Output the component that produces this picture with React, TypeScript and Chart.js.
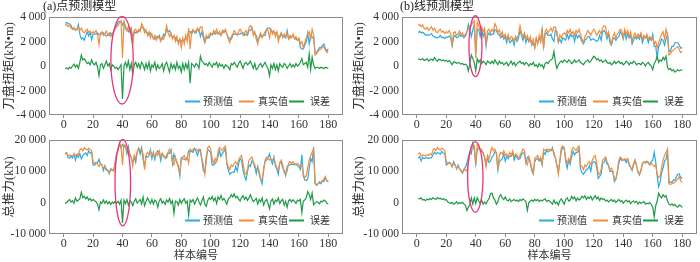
import React, { useEffect, useRef } from "react";
import { Chart, registerables } from "chart.js";

Chart.register(...registerables);

// ---------- data ----------
const X_TICKS = [0, 20, 40, 60, 80, 100, 120, 140, 160, 180];
const SERIES_NAMES = ["预测值", "真实值", "误差"];
const PANEL_TITLES = ["(a)点预测模型", "(b)线预测模型"];
const TORQUE_TITLE = "刀盘扭矩(kN•m)";
const THRUST_TITLE = "总推力(kN)";
const X_TITLE = "样本编号";

const TORQUE_TRUE = [
  3300, 3400, 3200, 3350, 3100, 3000, 3150, 2900, 3050, 3200,
  2900, 3100, 2800, 2700, 2900, 3000, 2750, 2850, 2650, 2800,
  2700, 2900, 2600, 1750, 2700, 2800, 2500, 2650, 2850, 2550,
  2700, 2400, 2600, 2800, 3000, 3200, 3300, 3550, 3700, 650,
  3600, 3300, 2900, 3200, 2800, 3100, 1700, 2900, 3000, 2700,
  3000, 2800, 3450, 3200, 2700, 2950, 2500, 2800, 2300, 2600,
  2200, 2500, 2100, 2400, 2300, 2000, 2400, 2200, 2600, 3300,
  2700, 2400, 2700, 2200, 2500, 2000, 2400, 1800, 2200, 1500,
  2300, 1800, 2500, 2000, 3100, 1400, 2800, 3000, 2700, 2900,
  3100, 2800, 3200, 3200, 2600, 2000, 2500, 2300, 2600, 2700,
  2500, 2900, 2700, 3000, 2600, 2800, 2500, 2900, 2700, 3000,
  2600, 2200, 1900, 2400, 2600, 2900, 2700, 2500, 2800, 3000,
  2800, 2500, 2700, 2900, 2600, 3100, 3300, 3200, 2500, 2800,
  2200, 1800, 2400, 2700, 2300, 2600, 2800, 3000, 2900, 2300,
  3000, 2600, 2900, 2400, 2800, 2000, 2500, 2700, 2300, 2600,
  2400, 2700, 2200, 2500, 2300, 2600, 2200, 2400, 2100, 2300,
  1800, 2000, 1500, 1900, 2300, 2600, 2800, 2200, 3000, 2500,
  900, 1000, 1200, 1300, 1400, 1500, 1600, 1300, 1100, 1200,
];

const TORQUE_PRED_A = [
  3500, 3550, 3450, 3450, 3300, 3000, 3000, 3000, 2950, 3400,
  2600, 2200, 2300, 2100, 2500, 2800, 2450, 2750, 2150, 2600,
  2600, 2600, 2700, 2550, 2600, 2600, 2700, 2550, 2450, 2550,
  2500, 2700, 2500, 2800, 3200, 3300, 3600, 3650, 3600, 3350,
  3600, 3000, 3000, 2800, 3100, 2900, 2400, 2800, 2700, 2800,
  2800, 3000, 3150, 3100, 3000, 2750, 2700, 2500, 2700, 2500,
  2300, 2200, 2400, 2300, 2500, 2100, 2200, 2600, 2500, 3000,
  2800, 2900, 2500, 2400, 2400, 2300, 2100, 2000, 2200, 2000,
  2100, 2100, 2300, 2200, 2800, 2800, 2600, 2900, 2800, 2700,
  3000, 3000, 2400, 2800, 2300, 1900, 2300, 2300, 2300, 2600,
  2600, 2700, 2600, 2700, 2700, 2600, 2500, 2800, 2900, 2900,
  2600, 2300, 2200, 2200, 2500, 2600, 2600, 2600, 2600, 2600,
  2700, 2700, 2500, 2600, 2500, 2900, 2900, 3100, 2700, 2600,
  2500, 2000, 2300, 2500, 2400, 2500, 2500, 3000, 3100, 3100,
  2900, 2800, 2700, 2700, 2700, 2400, 2300, 2700, 2400, 2400,
  2300, 2900, 2200, 2300, 2400, 2500, 2300, 2200, 2100, 2200,
  1500, 1400, 1400, 1700, 2000, 2700, 1800, 2500, 2300, 2400,
  1100, 1100, 1300, 1500, 1500, 1650, 1800, 1400, 1250, 1400,
];

const TORQUE_ERR_A = [
  -200, -150, -250, -100, -200, 0, 150, -100, 100, -200,
  300, 900, 500, 600, 400, 200, 300, 100, 500, 200,
  100, 300, -100, -800, 100, 200, -200, 100, 400, 0,
  200, -300, 100, 0, -200, -100, -300, -100, 100, -2700,
  0, 300, -100, 400, -300, 200, -700, 100, 300, -100,
  200, -200, 300, 100, -300, 200, -200, 300, -400, 100,
  -100, 300, -300, 100, -200, -100, 200, -400, 100, 300,
  -100, -500, 200, -200, 100, -300, 300, -200, 0, -500,
  200, -300, 200, -200, 300, -1400, 200, 100, -100, 200,
  100, -200, 800, 400, 300, 100, 200, 0, 300, 100,
  -100, 200, 100, 300, -100, 200, 0, 100, -200, 100,
  0, -100, -300, 200, 100, 300, 100, -100, 200, 400,
  100, -200, 200, 300, 100, 200, 400, 100, -200, 200,
  -300, -200, 100, 200, -100, 100, 300, 0, -200, -800,
  100, -200, 200, -300, 100, -400, 200, 0, -100, 200,
  100, -200, 0, 200, -100, 100, -100, 200, 0, 100,
  300, 600, 100, 200, 300, -100, 1000, -300, 700, 100,
  -200, -100, -100, -200, -100, -150, -200, -100, -150, -200,
];

const TORQUE_PRED_B = [
  2700, 2850, 2700, 2750, 2650, 2500, 2550, 2500, 2550, 2650,
  2450, 2400, 2300, 2300, 2350, 2500, 2300, 2350, 2250, 2350,
  2350, 2450, 2300, 1650, 2350, 2500, 2300, 2350, 2600, 2400,
  2500, 2300, 2450, 2750, 3400, 3000, 2400, 2950, 3400, 1050,
  3000, 3000, 2400, 3000, 2400, 2800, 1600, 2500, 2700, 2500,
  2600, 2600, 2950, 2900, 2600, 2550, 2300, 2500, 2200, 2400,
  1900, 2500, 1900, 2000, 2200, 1700, 2400, 2000, 2300, 2900,
  2500, 2100, 2600, 1900, 2300, 2000, 2200, 1700, 1900, 1500,
  2200, 1900, 2300, 2000, 3000, 1600, 2600, 2700, 2500, 2500,
  2600, 2200, 2000, 2900, 2800, 1900, 2200, 1900, 2300, 2200,
  2100, 2600, 2200, 2600, 2400, 2500, 2000, 2600, 2300, 2500,
  2300, 2000, 1800, 2100, 2200, 2400, 2400, 2100, 2200, 2200,
  2100, 2000, 2100, 2500, 2100, 2800, 2900, 2700, 2200, 2600,
  1900, 1700, 2200, 2300, 2100, 2300, 2400, 2800, 2600, 2200,
  2800, 2200, 2600, 2300, 2500, 1800, 2100, 2400, 2200, 2400,
  2200, 2600, 1900, 2300, 2300, 2400, 1900, 2300, 2100, 2600,
  1600, 1600, 700, 1600, 1800, 2200, 2100, 1700, 2200, 2600,
  1200, 1200, 1600, 1600, 1900, 1900, 1900, 1700, 1450, 1500,
];

const TORQUE_ERR_B = [
  600, 550, 500, 600, 450, 500, 600, 400, 500, 550,
  450, 700, 500, 400, 550, 500, 450, 500, 400, 450,
  350, 450, 300, 100, 350, 300, 200, 300, 250, 150,
  200, 100, 150, 50, -400, 200, 900, 600, 300, -400,
  600, 300, 500, 200, 400, 300, 100, 400, 300, 200,
  400, 200, 500, 300, 100, 400, 200, 300, 100, 200,
  300, 0, 200, 400, 100, 300, 0, 200, 300, 400,
  200, 300, 100, 300, 200, 0, 200, 100, 300, 0,
  100, -100, 200, 0, 100, -200, 200, 300, 200, 400,
  500, 600, 1200, 300, -200, 100, 300, 400, 300, 500,
  400, 300, 500, 400, 200, 300, 500, 300, 400, 500,
  300, 200, 100, 300, 400, 500, 300, 400, 600, 800,
  700, 500, 600, 400, 500, 300, 400, 500, 300, 200,
  300, 100, 200, 400, 200, 300, 400, 200, 300, 100,
  200, 400, 300, 100, 300, 200, 400, 300, 100, 200,
  200, 100, 300, 200, 0, 200, 300, 100, 0, -300,
  200, 400, 800, 300, 500, 400, 700, 500, 800, -100,
  -300, -200, -400, -300, -500, -400, -300, -400, -350, -300,
];

const THRUST_TRUE = [
  15500, 15800, 14800, 15200, 15000, 14800, 15300, 15000, 15500, 15200,
  16800, 17200, 16500, 17500, 17000, 16800, 17300, 17000, 16500, 13000,
  12500, 12800, 12200, 11500, 12500, 11800, 11000, 11500, 10800, 10000,
  9500, 10200, 10500, 10000, 13000, 15500, 17000, 18500, 18200, 12000,
  18500, 17800, 16500, 17000, 15500, 14500, 11500, 15000, 14000, 16000,
  17500, 16500, 17000, 15500, 10500, 15000, 16000, 15500, 16500, 15000,
  15500, 14500, 16000, 15000, 16500, 14500, 15500, 15000, 14000, 15000,
  16000, 17000, 16500, 13000, 12000, 14500, 13000, 11000, 9500, 14000,
  14500, 15000, 13500, 14500, 12500, 17000, 16500, 17000, 16800, 17000,
  16500, 17000, 16000, 14000, 12000, 9000, 13500, 17500, 18000, 17000,
  14000, 12500, 14000, 13000, 16500, 17500, 17000, 16500, 17500, 18000,
  12000, 11500, 10500, 12000, 11500, 12500, 13000, 12000, 13500, 14500,
  15000, 12500, 9500, 9000, 10500, 13500, 14000, 14500, 13000, 12000,
  10500, 11000, 10000, 7500, 7500, 10000, 13500, 14500, 14000, 13500,
  14000, 13500, 14000, 12500, 11000, 10500, 12500, 13500, 12000, 9500,
  9000, 10000, 12500, 13000, 12500, 13000, 12500, 12000, 12500, 12000,
  11500, 12000, 9000, 8000, 8500, 11000, 13500, 15000, 16000, 17000,
  6000, 5800, 6000, 6200, 6500, 7000, 7500, 8300, 6800, 6500,
];

const THRUST_PRED_A = [
  15800, 15800, 14300, 14200, 14800, 14200, 15500, 13500, 15100, 14400,
  15600, 13900, 15000, 15500, 15800, 15000, 16500, 15700, 16000, 12000,
  11900, 12500, 12700, 13800, 12300, 12100, 10200, 11700, 10300, 10400,
  9200, 10800, 10300, 10300, 12500, 15700, 16600, 19000, 17400, 18500,
  17700, 18100, 15500, 17800, 14900, 14300, 12500, 14600, 12800, 16200,
  17000, 15500, 17500, 13700, 11500, 14700, 14500, 14900, 16800, 14000,
  16000, 13700, 15700, 16500, 15900, 13300, 15700, 14600, 14600, 14200,
  15800, 15700, 16800, 12400, 15500, 14000, 12700, 11800, 8500, 14300,
  13900, 13800, 13700, 14000, 16500, 16200, 16300, 16000, 17300, 16400,
  15000, 16700, 16800, 13500, 10200, 9500, 14700, 16800, 16500, 16000,
  12000, 11900, 12500, 13300, 14700, 16500, 14700, 15700, 16200, 17500,
  12500, 10300, 9000, 9500, 9700, 9700, 11500, 10000, 12300, 14000,
  13400, 10300, 8500, 7200, 9800, 12000, 11500, 13300, 12700, 11200,
  9200, 11500, 9000, 7300, 6000, 10800, 13000, 13500, 14300, 15500,
  13500, 12300, 14500, 11700, 10700, 9000, 12800, 12900, 11000, 10300,
  8600, 11500, 11900, 12000, 12300, 12100, 12100, 12300, 11700, 11500,
  10500, 15200, 8500, 7200, 7000, 7500, 11000, 14000, 13000, 17700,
  6200, 5500, 5900, 6600, 6000, 6800, 6700, 7800, 7000, 6900,
];

const THRUST_ERR_A = [
  -300, 0, 500, 1000, 200, 600, -200, 1500, 400, 800,
  1200, 3300, 1500, 2000, 1200, 1800, 800, 1300, 500, 1000,
  600, 300, -500, -2300, 200, -300, 800, -200, 500, -400,
  300, -600, 200, -300, 500, -200, 400, -500, 800, -6500,
  800, -300, 1000, -800, 600, 200, -1000, 400, 1200, -200,
  500, 1000, -500, 1800, -1000, 300, 1500, 600, -300, 1000,
  -500, 800, 300, -1500, 600, 1200, -200, 400, -600, 800,
  200, 1300, -300, 600, -3500, 500, 300, -800, 1000, -300,
  600, 1200, -200, 500, -4000, 800, 200, 1000, -500, 600,
  1500, 300, -800, 500, 1800, -500, -1200, 700, 1500, 1000,
  2000, 600, 1500, -300, 1800, 1000, 2300, 800, 1300, 500,
  -500, 1200, 1500, 2500, 1800, 2800, 1500, 2000, 1200, 500,
  1600, 2200, 1000, 1800, 700, 1500, 2500, 1200, 300, 800,
  1300, -500, 1000, 200, 1500, -800, 500, 1000, -300, -2000,
  500, 1200, -500, 800, 300, 1500, -300, 600, 1000, -800,
  400, -1500, 600, 1000, 200, 900, 400, -300, 800, 500,
  1000, -3200, 500, 800, 1500, 3500, 2500, 1000, 3000, -700,
  -200, 300, 100, -400, 500, 200, 800, 500, -200, -400,
];

const THRUST_PRED_B = [
  14200, 14600, 13300, 14400, 14000, 14200, 14200, 14100, 14200, 14200,
  15300, 16000, 15500, 15900, 15800, 15400, 16300, 15700, 15700, 12000,
  12300, 12800, 12500, 11400, 13000, 12000, 10700, 11900, 10800, 10300,
  9400, 10700, 11300, 12500, 14500, 16000, 15500, 19000, 16700, 12300,
  17000, 17300, 16800, 16200, 16000, 14300, 11900, 14400, 12800, 13200,
  14500, 15000, 16200, 16000, 10300, 13000, 13500, 14000, 15500, 13200,
  14700, 14000, 14800, 14700, 15800, 13500, 15000, 14200, 13700, 14000,
  15400, 15800, 15700, 12700, 14500, 14500, 12500, 10200, 9100, 13000,
  13900, 14000, 13200, 13700, 12000, 16100, 15300, 16600, 16100, 16500,
  16500, 17500, 15200, 14300, 11800, 9800, 12900, 16300, 17700, 17500,
  13000, 11000, 13500, 12200, 14500, 16300, 15200, 15900, 16000, 17200,
  10800, 9500, 9000, 9800, 10500, 10700, 11700, 10000, 12700, 13000,
  12800, 11300, 7700, 8300, 9000, 12500, 12800, 14000, 12200, 11800,
  9900, 10000, 9700, 6700, 7500, 9500, 12500, 14200, 13400, 13700,
  13600, 12700, 13800, 11900, 11300, 10200, 12000, 13500, 11600, 10000,
  8800, 10300, 12500, 12700, 13000, 13200, 12900, 12000, 13100, 13500,
  16000, 13000, 8500, 5000, 6500, 9500, 11000, 13200, 13800, 16500,
  6500, 6600, 6400, 7200, 7100, 8200, 9000, 9100, 7800, 8000,
];

const THRUST_ERR_B = [
  1300, 1200, 1500, 800, 1000, 600, 1100, 900, 1300, 1000,
  1500, 1200, 1000, 1600, 1200, 1400, 1000, 1300, 800, 1000,
  200, 0, -300, 100, -500, -200, 300, -400, 0, -300,
  100, -500, -800, -2500, -1500, -500, 1500, -500, 1500, -300,
  1500, 500, -300, 800, -500, 200, -400, 600, 1200, 2800,
  3000, 1500, 800, -500, 200, 2000, 2500, 1500, 1000, 1800,
  800, 500, 1200, 300, 700, 1000, 500, 800, 300, 1000,
  600, 1200, 800, 300, -2500, 0, 500, 800, 400, 1000,
  600, 1000, 300, 800, 500, 900, 1200, 400, 700, 500,
  0, -500, 800, -300, 200, -800, 600, 1200, 300, -500,
  1000, 1500, 500, 800, 2000, 1200, 1800, 600, 1500, 800,
  1200, 2000, 1500, 2200, 1000, 1800, 1300, 2000, 800, 1500,
  2200, 1200, 1800, 700, 1500, 1000, 1200, 500, 800, 200,
  600, 1000, 300, 800, 0, 500, 1000, 300, 600, -200,
  400, 800, 200, 600, -300, 300, 500, 0, 400, -500,
  200, -300, 0, 300, -500, -200, -400, 0, -600, -1500,
  -4500, -1000, 500, 3000, 2000, 1500, 2500, 1800, 2200, 500,
  -500, -800, -400, -1000, -600, -1200, -1500, -800, -1000, -1500,
];

// ---------- styling ----------
const FONT = "'Liberation Serif', 'Noto Sans CJK SC', serif";
const COLORS = ["#2aabe3", "#f48d3c", "#1f9a47"];
const TEXT = "#333333";
const FRAME = "#8a8a8a";
const ELLIPSE = "#e8357f";

function fmt(v: number): string {
  const s = String(Math.abs(v)).replace(/\B(?=(\d{3})+(?!\d))/g, " ");
  return (v < 0 ? "-" : "") + s;
}

const toPoints = (arr: number[]) => arr.map((y, i) => ({ x: i + 1, y }));

const decorPlugin = {
  id: "decor",
  afterDatasetsDraw(chart: any, _args: any, opts: any) {
    const { ctx, chartArea: a, scales } = chart;
    ctx.save();
    // frame
    ctx.strokeStyle = FRAME;
    ctx.lineWidth = 1;
    const l = Math.round(a.left) + 0.5;
    const t = Math.round(a.top) + 0.5;
    const r = Math.round(a.right) - 0.5;
    const b = Math.round(a.bottom) - 0.5;
    ctx.strokeRect(l, t, r - l, b - t);

    // highlight ellipse
    const e = opts.ellipse;
    const xs = scales.x;
    const ys = scales.y;
    const cx = xs.getPixelForValue(e.cx);
    const rx = Math.abs(xs.getPixelForValue(e.cx + e.rx) - cx);
    const cy = ys.getPixelForValue(e.cy);
    const ry = Math.abs(ys.getPixelForValue(e.cy + e.ry) - cy);
    ctx.strokeStyle = ELLIPSE;
    ctx.lineWidth = 1.3;
    ctx.beginPath();
    ctx.ellipse(cx, cy, rx, ry, 0, 0, Math.PI * 2);
    ctx.stroke();

    // legend
    const ly = a.bottom - 13.5;
    const slots = [
      { line: 158, text: 140 },
      { line: 104, text: 85 },
      { line: 54, text: 33 },
    ];
    ctx.font = `10px ${FONT}`;
    ctx.textBaseline = "middle";
    ctx.textAlign = "left";
    SERIES_NAMES.forEach((name, i) => {
      const s = slots[i];
      ctx.strokeStyle = COLORS[i];
      ctx.lineWidth = 2;
      ctx.beginPath();
      ctx.moveTo(a.right - s.line, ly);
      ctx.lineTo(a.right - s.line + 15, ly);
      ctx.stroke();
      ctx.fillStyle = TEXT;
      ctx.fillText(name, a.right - s.text, ly + 0.5);
    });

    // panel title
    if (opts.title) {
      ctx.font = `12px ${FONT}`;
      ctx.fillStyle = "#222";
      ctx.textBaseline = "middle";
      ctx.fillText(opts.title, opts.titleX, 6.5);
    }
    ctx.restore();
  },
};

type PanelCfg = {
  left: number;
  top: number;
  title: string | null;
  titleX: number;
  yTitle: string;
  pred: number[];
  truth: number[];
  err: number[];
  yMin: number;
  yMax: number;
  yStep: number;
  xTitle: boolean;
  padTop: number;
  padRight: number;
  yWidth: number;
  xHeight: number;
  ellipse: { cx: number; cy: number; rx: number; ry: number };
};

const PANELS: PanelCfg[] = [
  {
    left: 0, top: 0, title: PANEL_TITLES[0], titleX: 43, yTitle: TORQUE_TITLE,
    pred: TORQUE_PRED_A, truth: TORQUE_TRUE, err: TORQUE_ERR_A,
    yMin: -4000, yMax: 4000, yStep: 2000, xTitle: false,
    padTop: 17, padRight: 7, yWidth: 49, xHeight: 16,
    ellipse: { cx: 39.7, cy: 475, rx: 7.6, ry: 3575 },
  },
  {
    left: 350, top: 0, title: PANEL_TITLES[1], titleX: 50, yTitle: TORQUE_TITLE,
    pred: TORQUE_PRED_B, truth: TORQUE_TRUE, err: TORQUE_ERR_B,
    yMin: -4000, yMax: 4000, yStep: 2000, xTitle: false,
    padTop: 17, padRight: 3, yWidth: 52, xHeight: 16,
    ellipse: { cx: 39.8, cy: 1615, rx: 4.4, ry: 2485 },
  },
  {
    left: 0, top: 131, title: null, titleX: 0, yTitle: THRUST_TITLE,
    pred: THRUST_PRED_A, truth: THRUST_TRUE, err: THRUST_ERR_A,
    yMin: -10000, yMax: 20000, yStep: 10000, xTitle: true,
    padTop: 6, padRight: 7, yWidth: 49, xHeight: 28,
    ellipse: { cx: 40.2, cy: 6350, rx: 5.3, ry: 13750 },
  },
  {
    left: 350, top: 131, title: null, titleX: 0, yTitle: THRUST_TITLE,
    pred: THRUST_PRED_B, truth: THRUST_TRUE, err: THRUST_ERR_B,
    yMin: -10000, yMax: 20000, yStep: 10000, xTitle: true,
    padTop: 6, padRight: 3, yWidth: 52, xHeight: 28,
    ellipse: { cx: 39.7, cy: 8150, rx: 5.2, ry: 11250 },
  },
];

function Panel({ cfg }: { cfg: PanelCfg }) {
  const ref = useRef<HTMLCanvasElement>(null);
  useEffect(() => {
    const canvas = ref.current;
    if (!canvas) return;
    const series = [cfg.pred, cfg.truth, cfg.err];
    const chart = new Chart(canvas, {
      type: "line",
      data: {
        datasets: series.map((arr, i) => ({
          label: SERIES_NAMES[i],
          data: toPoints(arr),
          borderColor: COLORS[i],
          backgroundColor: COLORS[i],
          borderWidth: 1.2,
          pointRadius: 0,
          tension: 0,
          fill: false,
          order: 2 - i,
        })),
      },
      options: {
        responsive: false,
        animation: false,
        events: [],
        layout: { padding: { top: cfg.padTop, right: cfg.padRight, left: 0, bottom: 0 } },
        plugins: {
          legend: { display: false },
          title: { display: false },
          tooltip: { enabled: false },
          decor: { ellipse: cfg.ellipse, title: cfg.title, titleX: cfg.titleX },
        } as any,
        scales: {
          x: {
            type: "linear",
            min: -10,
            max: 190,
            afterBuildTicks: (s: any) => {
              s.ticks = X_TICKS.map((v) => ({ value: v }));
            },
            afterFit: (s: any) => {
              s.height = cfg.xHeight;
            },
            grid: { display: true, drawOnChartArea: false, drawTicks: true, tickLength: 3, color: FRAME },
            border: { display: false },
            ticks: {
              font: { family: FONT, size: 12, lineHeight: 1 },
              color: TEXT,
              padding: 1,
              maxRotation: 0,
              autoSkip: false,
            },
            title: {
              display: cfg.xTitle,
              text: X_TITLE,
              font: { family: FONT, size: 11, lineHeight: 1 },
              color: TEXT,
              padding: { top: 0, bottom: 0 },
            },
          },
          y: {
            type: "linear",
            min: cfg.yMin,
            max: cfg.yMax,
            afterFit: (s: any) => {
              s.width = cfg.yWidth;
            },
            grid: { display: false, drawTicks: false },
            border: { display: false },
            ticks: {
              stepSize: cfg.yStep,
              callback: (v: any) => fmt(Number(v)),
              font: { family: FONT, size: 11.5, lineHeight: 1 },
              color: TEXT,
              padding: 3,
            },
            title: {
              display: true,
              text: cfg.yTitle,
              font: { family: FONT, size: 12.5, lineHeight: 1.2 },
              color: TEXT,
              padding: { top: 2, bottom: 0 },
            },
          },
        },
      },
      plugins: [decorPlugin],
    } as any);
    return () => chart.destroy();
  }, [cfg]);

  return (
    <canvas
      ref={ref}
      width={350}
      height={131}
      style={{ position: "absolute", left: cfg.left, top: cfg.top, width: 350, height: 131 }}
    />
  );
}

export default function App() {
  return (
    <div
      style={{
        position: "fixed",
        left: 0,
        top: 0,
        width: 700,
        height: 262,
        background: "#ffffff",
        overflow: "hidden",
      }}
    >
      {PANELS.map((p, i) => (
        <Panel key={i} cfg={p} />
      ))}
    </div>
  );
}
